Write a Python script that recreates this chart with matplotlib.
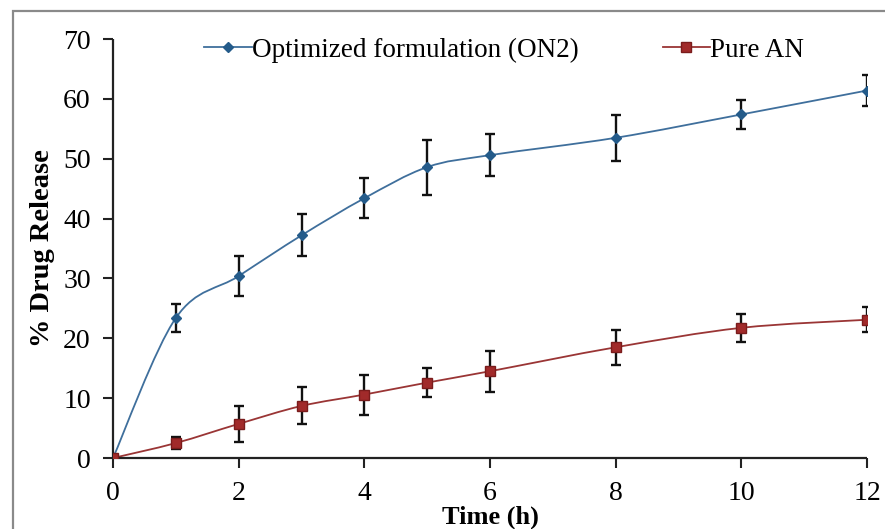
import matplotlib
matplotlib.use("Agg")
import matplotlib.pyplot as plt
import numpy as np
from matplotlib.path import Path
from matplotlib.patches import PathPatch, Rectangle

plt.rcParams['font.family'] = ['Liberation Serif', 'DejaVu Serif']

# Data
time_h = [0, 1, 2, 3, 4, 5, 6, 8, 10, 12]
on2 = [0, 23.4, 30.4, 37.2, 43.4, 48.6, 50.6, 53.5, 57.4, 61.4]
on2_err = [0, 2.3, 3.3, 3.5, 3.35, 4.6, 3.55, 3.8, 2.4, 2.6]
pure_an = [0, 2.5, 5.7, 8.7, 10.6, 12.6, 14.5, 18.5, 21.75, 23.1]
pure_an_err = [0, 1.05, 2.95, 3.1, 3.35, 2.4, 3.45, 2.95, 2.3, 2.05]

xticks = [0, 2, 4, 6, 8, 10, 12]
yticks = [0, 10, 20, 30, 40, 50, 60, 70]

blue_line = '#3f6f9c'
blue_mark = '#245b8a'
red_line = '#9a3535'
red_mark = '#a12a2a'


def smooth_path(x, y):
    # Excel-style smoothed line: cubic Bezier through the points
    pts = np.column_stack([x, y]).astype(float)
    n = len(pts)
    verts = [pts[0]]
    codes = [Path.MOVETO]
    for i in range(n - 1):
        p_prev = pts[i - 1] if i > 0 else pts[i]
        p_next2 = pts[i + 2] if i + 2 < n else pts[i + 1]
        c1 = pts[i] + (pts[i + 1] - p_prev) / 6.0
        c2 = pts[i + 1] - (p_next2 - pts[i]) / 6.0
        verts += [c1, c2, pts[i + 1]]
        codes += [Path.CURVE4] * 3
    return Path(verts, codes)


fig = plt.figure(figsize=(8.85, 5.29), dpi=100)
ax = fig.add_axes([0.1277, 0.1342, 0.852, 0.792])

# outer frame of the original picture
fig.patches.append(Rectangle((0.0147, -0.2), 1.2, 1.179, transform=fig.transFigure,
                             fill=False, edgecolor='#8a8a8a', lw=1.6, zorder=0))

ax.add_patch(PathPatch(smooth_path(time_h, on2), fill=False, edgecolor=blue_line, lw=1.3, zorder=2))
ax.add_patch(PathPatch(smooth_path(time_h, pure_an), fill=False, edgecolor=red_line, lw=1.3, zorder=2))

ax.errorbar(time_h, on2, yerr=on2_err, fmt='none', ecolor='#111111', elinewidth=1.7,
            capsize=3.3, capthick=1.7, zorder=3)
ax.errorbar(time_h, pure_an, yerr=pure_an_err, fmt='none', ecolor='#111111', elinewidth=1.7,
            capsize=3.3, capthick=1.7, zorder=3)

ax.plot(time_h, on2, linestyle='none', marker='D', ms=5, color=blue_mark, zorder=4)
ax.plot(time_h, pure_an, linestyle='none', marker='s', ms=7, mfc=red_mark,
        mec='#7a1c1c', zorder=5)

# legend handles: line with marker in the middle
h1, = ax.plot([], [], color=blue_line, lw=1.3, marker='D', ms=5, mfc=blue_mark, mec=blue_mark)
h2, = ax.plot([], [], color=red_line, lw=1.3, marker='s', ms=7, mfc=red_mark, mec='#7a1c1c')
ax.legend([h1, h2], ['Optimized formulation (ON2)', 'Pure AN'], ncol=2, frameon=False,
          loc='upper left', bbox_to_anchor=(0.089, 1.062), fontsize=19.5,
          handlelength=1.75, handletextpad=0.0, columnspacing=3.1, markerscale=1)

ax.set_xlim(0, 12)
ax.set_ylim(0, 70)
ax.set_xticks(xticks)
ax.set_yticks(yticks)
ax.tick_params(labelsize=20, length=7, width=1.5, color='#222222', direction='out')
ax.tick_params(axis='x', pad=9.5)
ax.tick_params(axis='y', pad=9)
for side in ['top', 'right']:
    ax.spines[side].set_visible(False)
for side in ['left', 'bottom']:
    ax.spines[side].set_linewidth(1.6)
    ax.spines[side].set_color('#222222')
    ax.spines[side].set_capstyle('butt')

ax.set_xlabel('Time (h)', fontsize=19, fontweight='bold', labelpad=0)
ax.set_ylabel('% Drug Release', fontsize=20.5, fontweight='bold', labelpad=6)

fig.savefig('out.png', dpi=100)
